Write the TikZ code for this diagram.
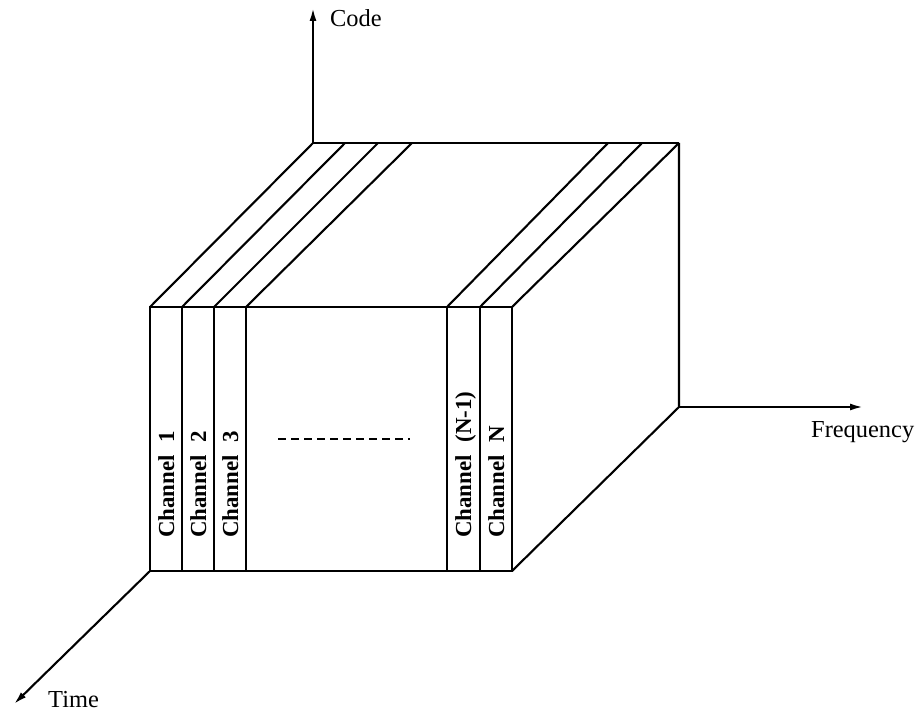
\documentclass[tikz,border=0pt]{standalone}
\usepackage{fontspec}
\setmainfont{Liberation Serif}
\usetikzlibrary{arrows.meta}
\begin{document}
\begin{tikzpicture}[x=1bp,y=-1bp,
  edge/.style={line width=2.1bp, line join=miter},
  axis/.style={line width=2.1bp, -{Latex[length=13bp,width=7bp]}},
  axlabel/.style={font=\fontsize{24.5}{27}\selectfont, inner sep=0pt},
  chlabel/.style={font=\fontsize{23}{26}\selectfont\bfseries, inner sep=0pt, rotate=90, anchor=base west}]
\useasboundingbox (0,0) rectangle (917,716);
% front face corners
\coordinate (f1) at (150,307);
\coordinate (f2) at (182,307);
\coordinate (f3) at (214,307);
\coordinate (f4) at (246,307);
\coordinate (f5) at (447,307);
\coordinate (f6) at (480,307);
\coordinate (f7) at (512,307);
\coordinate (b1) at (150,571);
\coordinate (b2) at (182,571);
\coordinate (b3) at (214,571);
\coordinate (b4) at (246,571);
\coordinate (b5) at (447,571);
\coordinate (b6) at (480,571);
\coordinate (b7) at (512,571);
% back top
\coordinate (t1) at (313,143);
\coordinate (t2) at (345,143);
\coordinate (t3) at (378,143);
\coordinate (t4) at (412,143);
\coordinate (t5) at (608,143);
\coordinate (t6) at (642,143);
\coordinate (t7) at (679,143);
\coordinate (c) at (679,407);
% axes tips
\coordinate (codetip) at (313,8);
\coordinate (freqtip) at (863,407);
\coordinate (timetip) at (14,704);
% front face
\draw[edge] (f1) rectangle (b7);
\foreach \i in {2,3,4,5,6} \draw[edge] (f\i) -- (b\i);
% top face
\draw[edge] (t1) -- (t7);
\foreach \i in {1,...,7} \draw[edge] (f\i) -- (t\i);
% right face
\draw[edge] (t7) -- (c) -- (b7);
% axes
\draw[axis] (t1) -- (codetip);
\draw[axis] (c) -- (freqtip);
\draw[axis] (b1) -- (timetip);
\node[axlabel, anchor=base west] (code) at (330,27) {Code};
\node[axlabel, anchor=base west] (freq) at (811,437) {Frequency};
\node[axlabel, anchor=base west] (time) at (48,707) {Time};
% channel labels
\node[chlabel] (ch1) at (174,538) {Channel\hspace{0.55em}1};
\node[chlabel] (ch2) at (206,538) {Channel\hspace{0.55em}2};
\node[chlabel] (ch3) at (238,538) {Channel\hspace{0.55em}3};
\node[chlabel] (chn1) at (471,538) {Channel\hspace{0.55em}(N-1)};
\node[chlabel] (chn) at (504,538) {Channel\hspace{0.55em}N};
% dashes
\coordinate (d1) at (278,439);
\coordinate (d2) at (410,439);
\draw[line width=1.6bp, dash pattern=on 8bp off 5bp] (d1) -- (d2);
\end{tikzpicture}
\end{document}
